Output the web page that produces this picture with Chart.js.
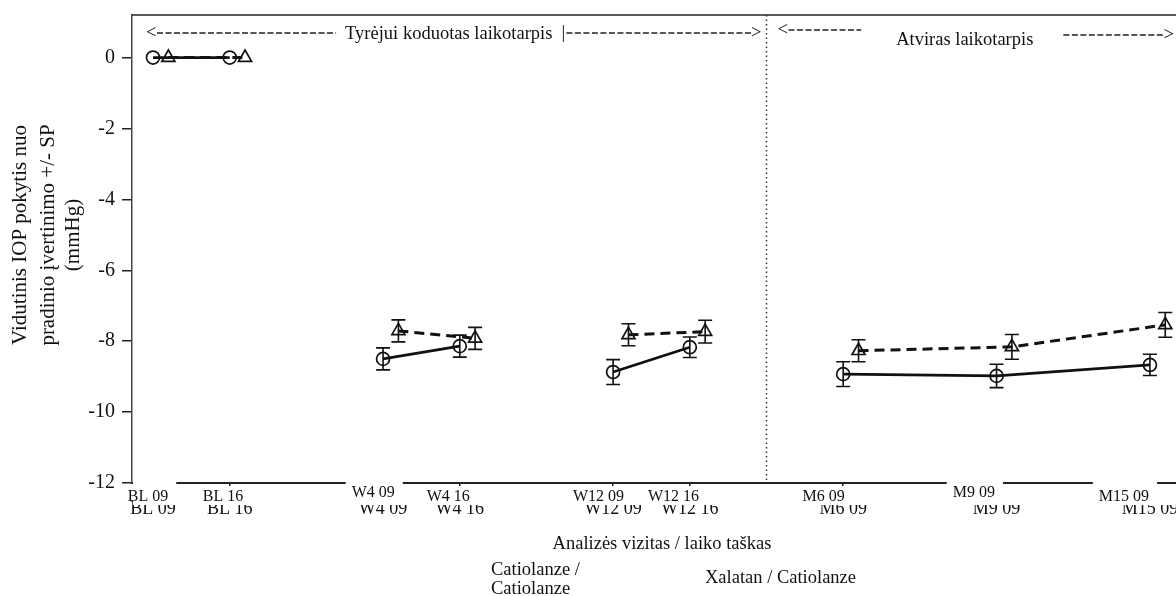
<!DOCTYPE html>
<html>
<head>
<meta charset="utf-8">
<script src="https://cdn.jsdelivr.net/npm/chart.js@4.4.1/dist/chart.umd.min.js"></script>
<style>
  html, body { margin: 0; padding: 0; background: #fff; }
  #wrap { width: 1176px; height: 596px; position: relative; }
</style>
</head>
<body>
<div id="wrap"><canvas id="iop"></canvas></div>
<script>
// visits on the x axis (09 / 16 = hour of measurement)
const visitLabels = ['BL 09', 'BL 16', 'W4 09', 'W4 16', 'W12 09', 'W12 16', 'M6 09', 'M9 09', 'M15 09'];
const visitPos = [0, 1, 3, 4, 6, 7, 9, 11, 13];
const visitGroups = [0, 0, 1, 1, 2, 2, 3, 3, 3];

// mean change in IOP from baseline (mmHg) and +/- SE
const catCat = [0, 0, -8.5, -8.14, -8.87, -8.17, -8.93, -8.98, -8.67];
const catCatSe = [0, 0, 0.31, 0.31, 0.35, 0.29, 0.35, 0.33, 0.30];
const xalCat = [0, 0, -7.71, -7.92, -7.82, -7.73, -8.27, -8.16, -7.54];
const xalCatSe = [0, 0, 0.31, 0.31, 0.31, 0.32, 0.31, 0.35, 0.35];

const yTicks = [0, -2, -4, -6, -8, -10, -12];
const periodSplit = 8;   // masked period | open period
const triShift = 0.2;    // triangles sit a bit right of the circles

const serif = '"Liberation Serif", "Times New Roman", serif';

function buildPoints(vals, se, shift) {
  const out = [];
  vals.forEach((v, i) => {
    if (i > 0 && visitGroups[i] !== visitGroups[i - 1]) {
      out.push({x: visitPos[i] - 0.5, y: null});
    }
    out.push({x: visitPos[i] + shift, y: v, se: se[i]});
  });
  return out;
}

const errorBars = {
  id: 'errorBars',
  afterDatasetsDraw(chart) {
    const ctx = chart.ctx;
    const xs = chart.scales.x, ys = chart.scales.y;
    ctx.save();
    ctx.strokeStyle = '#111';
    ctx.lineWidth = 1.6;
    chart.data.datasets.forEach(ds => {
      ds.data.forEach(d => {
        if (d.y === null || !d.se) return;
        const px = xs.getPixelForValue(d.x);
        const top = ys.getPixelForValue(d.y + d.se);
        const bot = ys.getPixelForValue(d.y - d.se);
        ctx.beginPath();
        ctx.moveTo(px, top); ctx.lineTo(px, bot);
        ctx.moveTo(px - 7, top); ctx.lineTo(px + 7, top);
        ctx.moveTo(px - 7, bot); ctx.lineTo(px + 7, bot);
        ctx.stroke();
      });
    });
    ctx.restore();
  }
};

const decorations = {
  id: 'decorations',
  afterDraw(chart) {
    const ctx = chart.ctx;
    const a = chart.chartArea;
    const xs = chart.scales.x;
    const divX = xs.getPixelForValue(periodSplit);
    ctx.save();

    // frame top
    ctx.strokeStyle = '#222';
    ctx.lineWidth = 1.5;
    ctx.beginPath();
    ctx.moveTo(a.left, a.top); ctx.lineTo(a.right, a.top);
    ctx.stroke();

    // period divider
    ctx.setLineDash([1.5, 3]);
    ctx.strokeStyle = '#333';
    ctx.beginPath();
    ctx.moveTo(divX, a.top); ctx.lineTo(divX, a.bottom);
    ctx.stroke();

    // period arrows
    ctx.fillStyle = '#111';
    ctx.font = '18.5px ' + serif;
    ctx.textBaseline = 'middle';
    const dash = (x1, x2, y) => {
      ctx.save();
      ctx.setLineDash([6, 2.5]);
      ctx.lineWidth = 1.5;
      ctx.strokeStyle = '#222';
      ctx.beginPath(); ctx.moveTo(x1, y); ctx.lineTo(x2, y); ctx.stroke();
      ctx.restore();
    };
    // masked period
    let xa = a.left + 14, xb = divX - 5, y = 33;
    let t = 'Tyrėjui koduotas laikotarpis';
    let w = ctx.measureText(t).width;
    let c = (xa + xb) / 2 - 5;
    ctx.textAlign = 'left';
    ctx.fillText('<', xa, y);
    dash(xa + 11, c - w / 2 - 9, y);
    ctx.textAlign = 'center';
    ctx.fillText(t, c, y + 1);
    ctx.fillText('|', c + w / 2 + 11, y);
    dash(c + w / 2 + 14, xb - 10, y);
    ctx.textAlign = 'right';
    ctx.fillText('>', xb, y);
    // open period
    xa = divX + 11; xb = a.right - 2;
    t = 'Atviras laikotarpis';
    w = ctx.measureText(t).width;
    c = (xa + xb) / 2 - 11;
    ctx.textAlign = 'left';
    ctx.fillText('<', xa, 30);
    dash(xa + 11, c - w / 2 - 35, 30);
    ctx.textAlign = 'center';
    ctx.fillText(t, c, 40);
    dash(c + w / 2 + 30, xb - 10, 35);
    ctx.textAlign = 'right';
    ctx.fillText('>', xb, 35);

    // overlaid smaller visit labels (with white boxes)
    ctx.setLineDash([]);
    ctx.fillStyle = '#fff';
    ctx.fillRect(a.left + 1, a.bottom + 3, a.right - a.left, 19);
    ctx.font = '16px ' + serif;
    ctx.textAlign = 'center';
    ctx.textBaseline = 'alphabetic';
    const boxed = [0, 2, 7, 8];
    const raised = [2, 7];
    visitLabels.forEach((lab, i) => {
      const cx = 0.979 * xs.getPixelForValue(visitPos[i]) - 1.8;
      const by = raised.includes(i) ? 497 : 501;
      const lw = ctx.measureText(lab).width;
      if (boxed.includes(i)) {
        ctx.fillStyle = '#fff';
        const l = Math.max(a.left + 1, cx - lw / 2 - 6);
        ctx.fillRect(l, a.bottom - 2, cx + lw / 2 + 8 - l, by - a.bottom + 2);
      }
      ctx.fillStyle = '#111';
      ctx.fillText(lab, cx, by);
    });

    // y axis title
    ctx.font = '21px ' + serif;
    ctx.textBaseline = 'middle';
    ctx.fillStyle = '#111';
    ctx.save();
    ctx.translate(20, 235);
    ctx.rotate(-Math.PI / 2);
    ctx.fillText('Vidutinis IOP pokytis nuo', 0, 0);
    ctx.fillText('pradinio įvertinimo +/- SP', 0, 28);
    ctx.fillText('(mmHg)', 0, 53);
    ctx.restore();

    // x axis title and group labels
    ctx.font = '18.5px ' + serif;
    ctx.textBaseline = 'alphabetic';
    ctx.textAlign = 'center';
    ctx.fillText('Analizės vizitas / laiko taškas', 662, 549);
    ctx.textAlign = 'left';
    ctx.fillText('Catiolanze /', 491, 575);
    ctx.fillText('Catiolanze', 491, 594);
    ctx.fillText('Xalatan / Catiolanze', 705, 583);
    ctx.restore();
  }
};

new Chart(document.getElementById('iop'), {
  type: 'line',
  data: {
    datasets: [
      {
        label: 'Catiolanze / Catiolanze',
        data: buildPoints(catCat, catCatSe, 0),
        borderColor: '#111',
        borderWidth: 2.8,
        spanGaps: false,
        pointStyle: 'circle',
        pointRadius: 6.5,
        pointBorderWidth: 1.7,
        pointBackgroundColor: 'rgba(0,0,0,0)',
        pointBorderColor: '#111'
      },
      {
        label: 'Xalatan / Catiolanze',
        data: buildPoints(xalCat, xalCatSe, triShift),
        borderColor: '#111',
        borderWidth: 3,
        borderDash: [10, 6],
        spanGaps: false,
        pointStyle: 'triangle',
        pointRadius: 7.5,
        pointBorderWidth: 1.7,
        pointBackgroundColor: 'rgba(0,0,0,0)',
        pointBorderColor: '#111'
      }
    ]
  },
  options: {
    responsive: true,
    maintainAspectRatio: false,
    animation: false,
    layout: { autoPadding: false, padding: { top: 15, right: 0, left: 0, bottom: 0 } },
    plugins: { legend: { display: false }, tooltip: { enabled: false } },
    scales: {
      x: {
        type: 'linear',
        min: -0.274,
        max: 13.34,
        afterBuildTicks(scale) { scale.ticks = visitPos.map(v => ({value: v})); },
        afterFit(scale) {
          scale.height = 113;
          scale.paddingLeft = 0; scale.paddingRight = 0;
        },
        grid: { display: true, drawOnChartArea: false, drawTicks: true, tickLength: 3, color: '#222', lineWidth: 1.5 },
        border: { display: true, color: '#222', width: 2 },
        ticks: {
          autoSkip: false,
          maxRotation: 0,
          padding: 12,
          color: '#111',
          font: { family: serif, size: 18 },
          callback: (v, i) => visitLabels[i]
        }
      },
      y: {
        min: -12,
        max: 1.2,
        afterBuildTicks(scale) { scale.ticks = yTicks.map(v => ({value: v})); },
        afterFit(scale) {
          scale.width = 132;
          scale.paddingTop = 0; scale.paddingBottom = 0;
        },
        grid: { display: true, drawOnChartArea: false, drawTicks: true, tickLength: 10, color: '#222', lineWidth: 1.5 },
        border: { display: true, color: '#444', width: 1.5 },
        ticks: {
          padding: 7,
          color: '#111',
          font: { family: serif, size: 20 }
        }
      }
    }
  },
  plugins: [errorBars, decorations]
});
</script>
</body>
</html>
